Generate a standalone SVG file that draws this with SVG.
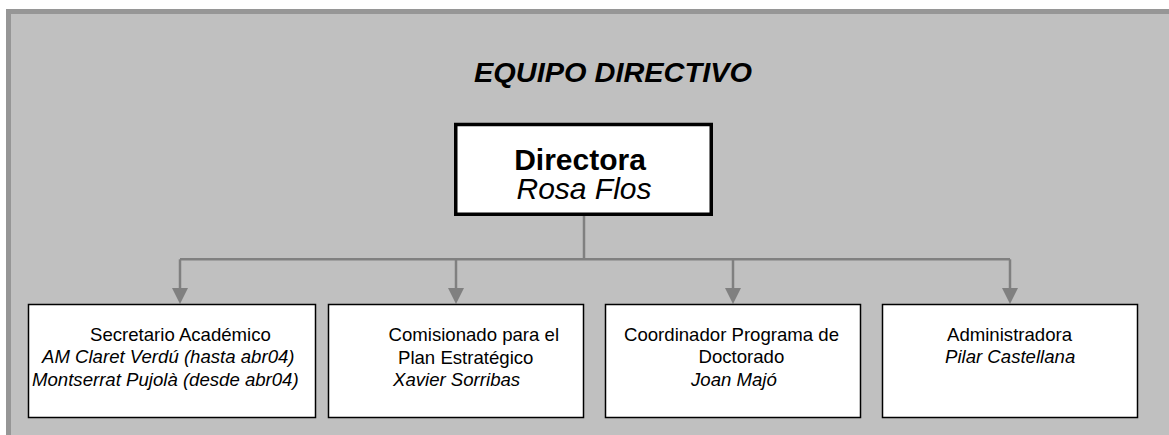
<svg xmlns="http://www.w3.org/2000/svg" width="1169" height="435" viewBox="0 0 1169 435">
<style>
.t{font-family:"Liberation Sans",Arial,sans-serif;font-size:18.6px;fill:#000}
.i{font-style:italic}
.box{fill:#fff;stroke:#000;stroke-width:1.5}
.conn{fill:none;stroke:#808080;stroke-width:2.5}
</style>
<defs>
<marker id="arr" markerUnits="userSpaceOnUse" markerWidth="16" markerHeight="16" refX="7.5" refY="0" viewBox="0 0 15 15">
<path d="M0,0 L15,0 L7.5,15 Z" fill="#808080"/>
</marker>
</defs>
<rect x="0" y="0" width="1169" height="435" fill="#fff"/>
<rect x="8.5" y="11.5" width="1200" height="500" fill="#c0c0c0" stroke="#969696" stroke-width="5"/>
<text x="613" y="82.3" text-anchor="middle" class="t" style="font-size:27.5px;font-weight:bold;font-style:italic" textLength="278" lengthAdjust="spacingAndGlyphs">EQUIPO DIRECTIVO</text>
<g id="connectors">
<path class="conn" d="M584,216 V259.3"/>
<path class="conn" d="M180,259.3 H1010"/>
<path class="conn" d="M180,259.3 V288" marker-end="url(#arr)"/>
<path class="conn" d="M456,259.3 V288" marker-end="url(#arr)"/>
<path class="conn" d="M733,259.3 V288" marker-end="url(#arr)"/>
<path class="conn" d="M1010,259.3 V288" marker-end="url(#arr)"/>
</g>
<g id="directora">
<rect x="455.75" y="124.5" width="255.5" height="89.75" fill="#fff" stroke="#000" stroke-width="3.5"/>
<text x="580" y="170" text-anchor="middle" class="t" style="font-size:30px;font-weight:bold">Directora</text>
<text x="584" y="198.5" text-anchor="middle" class="t i" style="font-size:30px">Rosa Flos</text>
</g>
<g id="secretario">
<rect class="box" x="28.5" y="304.5" width="287" height="113"/>
<text x="90" y="340.5" class="t">Secretario Académico</text>
<text x="42" y="363" class="t i">AM Claret Verdú (hasta abr04)</text>
<text x="32" y="385.5" class="t i">Montserrat Pujolà (desde abr04)</text>
</g>
<g id="comisionado">
<rect class="box" x="328.5" y="304.5" width="255" height="113"/>
<text x="388.5" y="341" class="t">Comisionado para el</text>
<text x="398" y="363.5" class="t">Plan Estratégico</text>
<text x="393" y="385.5" class="t i">Xavier Sorribas</text>
</g>
<g id="coordinador">
<rect class="box" x="605.5" y="304.5" width="255" height="113"/>
<text x="624" y="340.5" class="t">Coordinador Programa de</text>
<text x="698.5" y="363" class="t">Doctorado</text>
<text x="691" y="385.5" class="t i">Joan Majó</text>
</g>
<g id="administradora">
<rect class="box" x="882.5" y="304.5" width="255" height="113"/>
<text x="947" y="340.5" class="t">Administradora</text>
<text x="945" y="362.5" class="t i">Pilar Castellana</text>
</g>
</svg>
